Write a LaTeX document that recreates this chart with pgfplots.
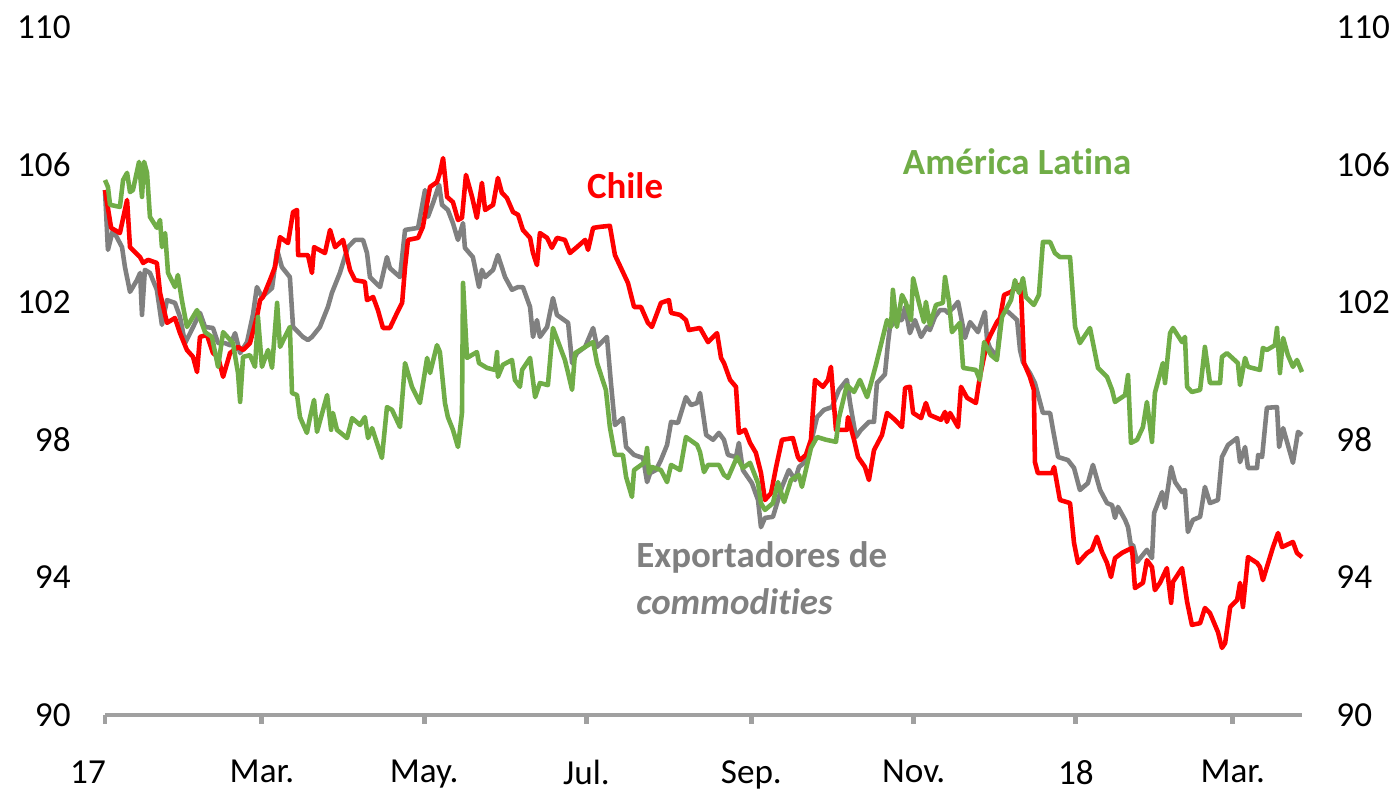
\documentclass[border=0pt]{standalone}
\usepackage{fontspec}
\setmainfont{Carlito}[Ligatures=NoCommon]
\usepackage{pgfplots}
\pgfplotsset{compat=1.18}

\definecolor{chile}{RGB}{255,0,0}
\definecolor{latam}{RGB}{112,173,71}
\definecolor{expo}{RGB}{128,128,128}
\definecolor{axisgray}{RGB}{160,160,160}

% x = days since 1 Jan 2017, y = index
\begin{document}
\begin{tikzpicture}
\useasboundingbox (-10.5mm,-7.7mm) rectangle (129.5mm,71.5mm);
\pgfplotsset{
  base/.style={
    at={(0,0)}, anchor=south west,
    scale only axis, width=119.7mm, height=68.8mm,
    xmin=0, xmax=450, ymin=90, ymax=110,
    ytick={90,94,...,110},
    y tick style={draw=none},
    tick label style={font=\fontsize{10}{12}\selectfont, text=black},
    /pgf/number format/assume math mode=true,
  }
}
% right-hand labels
\begin{axis}[base,
  axis x line=none, axis y line*=right,
  y axis line style={draw=none},
  yticklabel style={xshift=2.2mm}]
\end{axis}

\begin{axis}[base,
  axis x line*=bottom, axis y line*=left,
  y axis line style={draw=none},
  x axis line style={axisgray, line width=1.4pt, -},
  xtick={0,59,120,181,243,304,365,424},
  xticklabels={{\hspace*{-3.4mm}17},Mar.,May.,Jul.,Sep.,Nov.,18,Mar.},
  x tick style={axisgray, line width=1.4pt},
  xtick align=outside, major tick length=0.9mm,
  xticklabel style={yshift=-2.4mm},
  yticklabel style={xshift=-2.2mm},
  every axis plot/.append style={line width=1.3pt, line join=round, no markers},
  clip=false]

% Exportadores de commodities
\addplot[expo] coordinates {
(0,105.26) (1.1,103.52) (3.0,104.10) (6.4,103.60) (7.5,103.02) (9.4,102.30)
(12.0,102.64) (13.2,102.85) (13.9,101.63) (15.0,102.94) (16.9,102.85) (19.5,102.36)
(21.4,101.34) (23.3,102.06) (26.3,101.98) (28.2,101.57) (30.1,100.81) (32.0,101.10)
(35.7,101.69) (37.6,101.28) (40.6,101.25) (42.5,100.81) (45.1,100.81) (47.0,100.75)
(48.9,101.10) (50.8,100.52) (53.4,100.84) (55.6,101.63) (57.1,102.44) (59.0,102.15)
(62.8,102.41) (64.7,103.52) (66.5,103.02) (69.5,102.73) (70.7,101.28) (74.4,100.99)
(76.3,100.90) (77.8,100.99) (80.8,101.28) (83.8,101.86) (85.3,102.27) (88.3,102.85)
(91.3,103.60) (94.0,103.81) (97.0,103.81) (98.5,103.43) (99.6,102.73) (103.4,102.44)
(106.0,103.31) (107.1,102.99) (110.9,102.73) (112.8,104.10) (117.7,104.16) (120.3,105.26)
(121.4,104.48) (123.3,104.88) (125.6,105.41) (126.7,104.83) (128.9,104.68) (130.8,104.30)
(132.7,103.81) (134.6,104.30) (135.3,103.58) (138.3,103.31) (140.6,102.44) (141.7,102.94)
(142.9,102.73) (145.9,102.94) (147.7,103.37) (150.4,102.73) (153.0,102.36) (155.3,102.44)
(157.1,102.44) (159.8,101.86) (160.9,100.99) (162.4,101.48) (163.5,100.99) (166.2,101.28)
(168.4,102.12) (169.9,101.63) (174.1,101.40) (175.6,100.23) (177.4,100.52) (180.5,100.70)
(183.5,101.25) (185.0,100.70) (188.7,100.99) (190.2,99.65) (191.7,98.43) (194.7,98.63)
(195.9,97.79) (198.9,97.56) (202.3,97.47) (203.8,96.77) (204.9,97.03) (207.1,97.12)
(209.0,97.41) (211.3,97.85) (212.8,98.52) (215.4,98.49) (218.4,99.24) (220.3,99.01)
(222.6,99.07) (223.7,99.36) (224.8,98.78) (226.0,98.14) (228.6,98.00) (230.8,98.20)
(232.7,98.00) (234.2,97.56) (237.2,97.50) (238.3,97.91) (239.8,97.12) (243.2,96.74)
(245.5,96.25) (246.6,95.46) (248.1,95.73) (251.1,95.76) (254.5,96.63) (257.1,97.12)
(259.4,96.83) (260.9,97.21) (262.8,97.33) (265.4,97.91) (267.7,98.66) (270.3,98.87)
(273.3,98.95) (275.9,99.45) (278.9,99.74) (280.1,99.07) (282.3,98.08) (284.2,98.29)
(287.2,98.52) (289.1,98.52) (290.2,99.65) (293.2,99.90) (294.4,100.84) (295.1,101.28)
(297.7,101.48) (299.6,101.48) (300.8,101.86) (302.6,101.10) (304.5,101.48) (306.8,100.99)
(309.0,101.28) (310.1,101.19) (312.0,101.57) (313.9,101.77) (315.8,101.77) (316.9,101.69)
(318.8,101.83) (320.7,102.01) (322.2,101.42) (323.3,100.96) (325.2,101.42) (328.2,101.13)
(330.8,101.72) (331.6,100.90) (332.7,100.67) (335.3,100.41) (337.2,101.77) (339.5,101.72)
(342.9,101.48) (344.0,100.61) (345.1,100.26) (347.7,99.94) (349.6,99.65) (351.5,99.10)
(352.6,98.78) (355.3,98.78) (356.4,98.29) (358.3,97.50) (362.0,97.41) (364.3,97.18)
(366.5,96.54) (369.5,96.74) (371.4,97.27) (374.1,96.54) (376.7,96.16) (378.6,96.10)
(379.7,95.73) (380.8,96.05) (383.5,95.67) (384.6,95.46) (386.1,94.71) (386.5,94.94)
(388.0,94.45) (391.7,94.80) (393.6,94.56) (394.4,95.87) (397.4,96.48) (398.5,96.02)
(400.8,97.21) (402.3,96.77) (404.9,96.48) (406.0,96.54) (407.1,95.32) (409.0,95.67)
(411.7,95.76) (413.5,96.63) (415.4,96.16) (418.4,96.25) (419.9,97.50) (422.2,97.85)
(425.6,98.05) (426.7,97.35) (428.6,97.79) (429.7,97.18) (433.1,97.18) (433.5,97.56)
(435.0,97.50) (436.8,98.93) (440.6,98.95) (441.4,97.79) (442.9,98.34) (446.6,97.33)
(448.5,98.23) (450.0,98.14)
};

% Chile
\addplot[chile] coordinates {
(0,105.26) (2.3,104.16) (5.6,104.01) (8.3,104.97) (9.4,103.60) (13.2,103.31)
(14.3,103.14) (16.2,103.23) (19.5,103.14) (20.7,102.27) (23.3,101.40) (26.3,101.54)
(28.2,101.10) (30.8,100.61) (33.1,100.41) (34.6,99.97) (35.7,100.99) (38.3,101.05)
(40.6,100.52) (42.5,100.41) (44.4,99.83) (47.0,100.52) (50.0,100.70) (51.9,100.61)
(54.5,100.81) (57.1,101.57) (58.3,102.06) (59.4,102.15) (62.0,102.64) (63.9,103.02)
(65.8,103.89) (68.8,103.72) (70.7,104.62) (72.2,104.68) (72.6,103.37) (76.3,103.37)
(77.8,102.85) (78.6,103.60) (82.7,103.43) (84.6,104.10) (86.5,103.60) (89.5,103.81)
(92.1,102.94) (94.0,102.64) (97.7,102.59) (98.5,102.06) (100.8,102.15) (102.6,101.77)
(104.5,101.25) (107.1,101.25) (109.8,101.69) (111.7,101.98) (112.8,103.02) (113.9,103.81)
(117.7,103.87) (119.5,104.19) (122.2,105.35) (124.8,105.49) (125.9,105.76) (127.1,106.19)
(128.6,105.06) (130.8,104.91) (132.7,104.39) (134.2,104.45) (135.7,105.70) (138.0,105.06)
(139.8,104.45) (141.7,105.47) (142.9,104.68) (145.9,104.83) (147.7,105.61) (149.2,105.18)
(151.1,105.03) (153.4,104.62) (155.3,104.54) (157.1,104.10) (159.8,103.87) (160.9,103.43)
(162.4,103.08) (163.5,104.01) (166.2,103.87) (168.0,103.58) (169.9,103.87) (172.9,103.81)
(174.8,103.43) (177.4,103.60) (180.5,103.81) (181.6,103.52) (183.5,104.16) (186.1,104.19)
(189.8,104.22) (191.7,103.37) (194.0,102.99) (196.6,102.56) (198.9,101.86) (201.5,101.86)
(204.1,101.40) (205.6,101.28) (209.0,101.98) (212.0,102.06) (212.8,101.69) (216.2,101.63)
(218.4,101.48) (219.5,101.19) (223.7,101.25) (226.7,100.84) (230.1,101.10) (231.6,100.38)
(232.7,100.23) (235.0,99.74) (237.2,99.54) (237.6,99.07) (238.3,98.20) (240.6,98.29)
(242.5,97.91) (244.7,97.62) (246.6,97.04) (248.1,96.25) (250.4,96.45) (252.3,97.21)
(254.5,98.00) (258.6,98.05) (260.5,97.50) (261.3,97.41) (263.5,97.56) (265.4,98.00)
(266.9,99.74) (269.9,99.54) (271.8,99.74) (272.9,100.12) (274.8,98.29) (278.9,98.29)
(279.3,98.66) (281.6,98.00) (283.1,97.50) (285.7,97.21) (287.2,96.83) (289.1,97.70)
(292.1,98.14) (294.0,98.78) (297.0,98.58) (299.6,98.37) (300.8,99.51) (302.6,99.54)
(303.8,98.78) (306.8,98.63) (308.6,99.07) (310.1,98.72) (314.3,98.58) (315.8,98.81)
(316.5,98.52) (317.7,98.78) (320.7,98.37) (321.8,99.54) (324.1,99.22) (327.4,99.07)
(328.9,99.83) (331.6,100.84) (335.3,101.42) (336.5,101.54) (338.0,102.21) (340.6,102.30)
(343.6,102.50) (344.4,102.27) (345.5,100.23) (347.7,99.83) (349.2,99.45) (349.6,97.35)
(350.7,97.03) (356.0,97.03) (356.8,97.21) (359.0,96.25) (362.8,96.16) (364.3,95.00)
(365.8,94.42) (369.2,94.71) (371.0,94.80) (372.9,95.18) (374.8,94.74) (376.7,94.42)
(378.2,94.01) (379.7,94.56) (382.3,94.71) (384.6,94.80) (386.1,94.85) (387.2,93.69)
(390.2,93.84) (391.7,94.50) (393.6,94.30) (394.7,93.63) (396.6,93.84) (399.2,94.27)
(400.8,93.26) (401.5,93.87) (404.9,94.27) (406.8,93.29) (408.6,92.62) (411.7,92.67)
(413.5,93.11) (415.4,92.96) (416.5,92.76) (418.4,92.41) (419.9,91.95) (421.1,92.09)
(423.0,93.14) (425.6,93.34) (426.7,93.84) (427.8,93.14) (429.7,94.59) (433.1,94.42)
(434.2,94.30) (435.3,93.92) (436.8,94.30) (439.1,94.88) (441.0,95.29) (442.5,94.88)
(446.6,95.03) (448.1,94.71) (450.0,94.59)
};

% America Latina
\addplot[latam] coordinates {
(0,105.55) (1.1,105.35) (1.9,104.83) (5.6,104.77) (6.8,105.55) (8.3,105.76)
(9.4,105.20) (10.5,105.26) (12.8,106.08) (13.9,105.06) (14.7,106.08) (15.8,105.76)
(16.9,104.48) (19.5,104.16) (20.7,104.39) (21.4,103.60) (22.6,104.01) (23.7,102.85)
(26.3,102.44) (27.4,102.79) (28.9,102.06) (30.8,101.28) (34.6,101.77) (37.6,101.13)
(40.2,100.99) (42.5,100.12) (44.4,101.13) (48.1,100.81) (50.0,99.94) (50.8,99.10)
(51.9,100.41) (54.5,100.46) (56.4,100.12) (57.5,101.57) (59.0,100.12) (61.3,100.61)
(62.8,100.09) (64.7,101.98) (65.8,100.70) (69.5,101.28) (70.3,99.36) (72.2,99.30)
(73.3,98.66) (75.9,98.20) (77.1,98.66) (78.6,99.16) (79.7,98.23) (83.5,99.30)
(85.0,98.29) (85.7,98.78) (87.2,98.29) (91.0,98.05) (92.9,98.63) (95.9,98.43)
(97.7,98.66) (98.9,98.05) (100.4,98.34) (104.1,97.47) (106.0,98.95) (107.9,98.87)
(110.9,98.37) (112.8,100.23) (115.4,99.54) (118.4,99.07) (121.1,100.38) (122.2,99.94)
(124.8,100.75) (125.9,100.55) (127.8,99.07) (128.9,98.66) (130.8,98.29) (132.7,97.79)
(134.2,98.78) (134.6,102.56) (136.1,100.38) (139.8,100.55) (140.6,100.23) (143.6,100.09)
(146.6,100.03) (147.4,100.55) (147.7,99.83) (149.6,100.18) (153.0,100.32) (154.1,99.74)
(156.0,99.54) (156.8,100.03) (159.8,100.38) (161.7,99.24) (163.5,99.65) (166.5,99.59)
(168.4,101.25) (172.9,100.32) (174.1,99.94) (175.6,99.45) (176.7,100.52) (183.5,100.84)
(185.0,100.23) (188.3,99.45) (189.8,98.37) (191.7,97.56) (194.7,97.56) (195.9,96.92)
(198.1,96.34) (198.9,97.12) (203.0,97.35) (203.8,97.76) (204.5,97.03) (205.6,97.21)
(209.0,97.12) (211.3,96.77) (212.8,97.27) (216.2,97.12) (218.4,98.08) (222.6,97.85)
(223.7,97.64) (225.2,97.06) (226.7,97.27) (230.8,97.27) (232.7,96.98) (234.2,96.89)
(237.6,97.50) (239.8,97.18) (242.5,97.33) (245.5,96.74) (246.6,96.16) (248.1,95.96)
(251.1,96.16) (253.0,96.77) (255.3,96.19) (257.9,96.83) (260.9,96.98) (262.0,96.63)
(265.4,97.76) (267.7,98.08) (271.1,98.00) (274.8,97.94) (275.9,98.63) (278.9,99.59)
(281.6,99.39) (283.8,99.74) (286.5,99.24) (288.0,99.65) (289.8,100.17) (294.0,101.48)
(295.5,101.28) (296.2,102.36) (297.7,101.28) (299.6,102.21) (301.1,101.98) (303.0,101.48)
(303.8,102.70) (306.0,101.98) (307.9,101.42) (308.6,102.01) (310.1,101.34) (312.4,101.92)
(315.0,101.98) (315.8,102.73) (317.3,102.01) (318.4,101.13) (321.4,101.40) (322.6,100.09)
(327.4,100.03) (328.9,99.74) (330.5,100.84) (333.1,100.46) (335.3,100.32) (337.2,101.57)
(340.6,102.06) (342.1,102.64) (343.6,102.27) (345.1,102.70) (346.2,102.15) (349.2,101.92)
(351.1,102.21) (352.6,103.75) (355.3,103.75) (357.1,103.43) (359.0,103.31) (362.8,103.31)
(364.7,101.28) (366.5,100.81) (370.3,101.25) (373.3,100.09) (376.7,99.83) (378.6,99.45)
(379.7,99.10) (383.5,99.30) (384.6,99.88) (385.7,97.91) (388.0,98.00) (390.2,98.37)
(391.7,99.10) (393.6,97.94) (394.7,99.36) (397.7,100.23) (398.5,99.65) (400.4,101.10)
(401.5,101.25) (404.9,100.84) (406.0,100.99) (406.8,99.54) (408.6,99.39) (411.7,99.45)
(413.5,100.70) (415.4,99.65) (419.2,99.65) (419.9,100.41) (421.8,100.52) (425.9,100.23)
(426.7,99.59) (428.6,100.38) (429.7,100.12) (434.2,100.03) (435.3,100.67) (436.8,100.61)
(439.8,100.75) (440.6,101.25) (441.7,99.94) (442.9,100.96) (444.7,100.46) (446.6,100.12)
(448.1,100.32) (450.0,99.97)
};

\node[font=\bfseries\fontsize{10.5}{12}\selectfont, text=chile]
  at (axis cs:195.5,105.38) {Chile};
\node[font=\bfseries\fontsize{10.5}{12}\selectfont, text=latam]
  at (axis cs:342.9,106.08) {América Latina};
\node[font=\bfseries\fontsize{10.5}{12}\selectfont, text=expo, anchor=west, inner sep=0pt]
  at (axis cs:199.5,94.59) {Exportadores de};
\node[font=\bfseries\itshape\fontsize{10.5}{12}\selectfont, text=expo, anchor=west, inner sep=0pt]
  at (axis cs:199.5,93.28) {commodities};
\end{axis}
\end{tikzpicture}
\end{document}
